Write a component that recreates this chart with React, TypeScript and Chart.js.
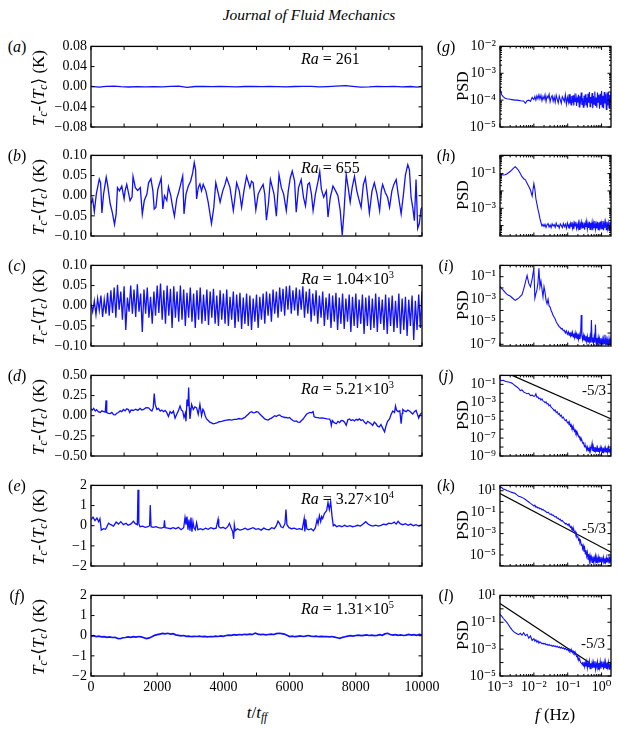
import React, { useEffect, useRef } from 'react';
import { Chart, registerables } from 'chart.js';

Chart.register(...registerables);

const SERIF = "'Liberation Serif', 'Times New Roman', 'DejaVu Serif', serif";
const BLUE = 'rgb(16, 16, 250)';
Chart.defaults.font.family = SERIF;
Chart.defaults.color = '#000';

// ---------------- time-series panels (a)-(f) ----------------
const TIME_TICKS = [0, 2000, 4000, 6000, 8000, 10000];
const TIME_TICK_MARKS = [0, 1000, 2000, 3000, 4000, 5000, 6000, 7000, 8000, 9000, 10000];

const A_YTICKS = [-0.08, -0.04, 0, 0.04, 0.08];
const B_YTICKS = [-0.1, -0.05, 0, 0.05, 0.1];
const C_YTICKS = [-0.1, -0.05, 0, 0.05, 0.1];
const D_YTICKS = [-0.5, -0.25, 0, 0.25, 0.5];
const E_YTICKS = [-2, -1, 0, 1, 2];
const F_YTICKS = [-2, -1, 0, 1, 2];

// [t/t_ff, Tc - <Tc>]
const A_SERIES = [
  [0, 0.0005], [250, -0.0008], [450, 0.0006], [700, 0.0012], [900, 0.0002], [1150, -0.0006],
  [1400, 0.0], [1650, -0.0004], [1900, 0.0003], [2150, -0.0002], [2400, 0.0008], [2650, 0.001],
  [2900, -0.0012], [3150, 0.0004], [3400, 0.0006], [3650, 0.0002], [3900, 0.0005], [4150, 0.0003],
  [4400, -0.0002], [4650, 0.0004], [4900, 0.0007], [5150, 0.0002], [5400, 0.0006], [5650, 0.0003],
  [5900, -0.0005], [6150, 0.0004], [6400, 0.0008], [6650, 0.0005], [6900, -0.0004], [7150, 0.0002],
  [7400, 0.001], [7700, 0.0022], [7900, 0.0008], [8150, -0.001], [8400, -0.0004], [8650, 0.0006],
  [8900, 0.0002], [9150, 0.0008], [9400, -0.0003], [9650, 0.0004], [9850, -0.0008], [10000, 0.0006],
];

const B_SERIES = [
  [0, -0.02], [50, -0.008], [100, -0.04], [160, 0.004], [250, 0.041], [290, 0.032], [330, -0.043],
  [380, 0.004], [460, 0.046], [500, 0.028], [580, -0.02], [640, -0.04], [710, -0.071], [760, -0.045],
  [800, 0.02], [860, 0.012], [930, 0.024], [1000, -0.008], [1030, 0.012], [1080, 0.028], [1130, 0.008],
  [1180, -0.012], [1240, -0.003], [1270, 0.048], [1340, 0.02], [1410, 0.013], [1490, 0.02], [1550, -0.046],
  [1610, -0.012], [1690, 0.004], [1740, 0.032], [1810, 0.042], [1870, 0.012], [1910, -0.033], [1960, -0.029],
  [2020, 0.016], [2120, 0.044], [2170, -0.033], [2220, 0.0], [2290, -0.012], [2340, 0.022], [2410, 0.0],
  [2460, -0.025], [2520, -0.051], [2590, -0.008], [2660, 0.012], [2770, 0.049], [2810, -0.045], [2870, 0.004],
  [2940, 0.024], [3010, 0.036], [3070, 0.056], [3120, 0.082], [3160, 0.064], [3190, -0.008], [3240, 0.02],
  [3290, 0.029], [3340, 0.012], [3390, 0.028], [3470, 0.012], [3540, -0.016], [3640, -0.069], [3710, -0.029],
  [3770, 0.032], [3850, 0.004], [3900, -0.016], [3980, 0.012], [4050, 0.028], [4100, 0.044], [4200, 0.02],
  [4300, -0.037], [4350, -0.004], [4400, 0.032], [4480, 0.012], [4550, -0.029], [4620, 0.012], [4700, 0.048],
  [4800, 0.02], [4850, 0.036], [4900, 0.032], [4980, -0.035], [5050, 0.004], [5120, 0.016], [5200, 0.028],
  [5250, 0.004], [5300, -0.061], [5360, -0.02], [5420, 0.04], [5480, 0.02], [5530, 0.004], [5600, -0.051],
  [5680, 0.052], [5750, 0.02], [5820, 0.004], [5900, -0.037], [5960, 0.012], [6020, 0.044], [6080, 0.061],
  [6150, 0.036], [6200, -0.041], [6270, 0.02], [6350, 0.04], [6420, -0.004], [6480, -0.025], [6550, 0.028],
  [6600, 0.032], [6660, 0.004], [6710, -0.037], [6780, 0.004], [6860, 0.036], [6910, 0.06], [6960, 0.016],
  [7030, -0.004], [7110, 0.012], [7160, -0.053], [7230, -0.004], [7310, 0.024], [7390, 0.012], [7460, 0.0],
  [7530, -0.037], [7590, -0.098], [7640, -0.045], [7710, 0.052], [7770, 0.02], [7830, -0.016], [7890, 0.02],
  [7960, 0.048], [8030, 0.012], [8090, -0.008], [8160, -0.029], [8230, 0.028], [8290, 0.044], [8350, 0.004],
  [8410, -0.043], [8490, 0.012], [8560, 0.032], [8640, 0.004], [8720, -0.037], [8770, 0.012], [8810, 0.028],
  [8890, 0.008], [8960, -0.004], [9020, -0.029], [9090, 0.012], [9150, 0.028], [9220, 0.04], [9280, 0.004],
  [9370, -0.045], [9440, 0.004], [9500, 0.052], [9570, 0.077], [9620, 0.064], [9670, -0.004], [9720, -0.029],
  [9770, -0.062], [9820, 0.04], [9870, -0.081], [9920, -0.069], [9970, -0.033], [10000, -0.029],
];

// sampled every C_STEP time units, starting at t = 0
const C_STEP = 50;
const C_VALUES = [
  0.005, -0.015, 0.012, -0.022, 0.018, -0.012, 0.025, -0.028, 0.015, -0.02,
  0.032, -0.025, 0.038, -0.018, 0.045, -0.03, 0.052, -0.01, 0.035, -0.035,
  0.048, -0.06, 0.02, -0.015, 0.05, -0.02, 0.04, -0.028, 0.053, -0.015,
  0.03, -0.065, 0.04, -0.02, 0.045, -0.03, 0.022, -0.045, 0.035, -0.025,
  0.05, -0.018, 0.055, -0.035, 0.038, -0.045, 0.05, -0.025, 0.042, -0.055,
  0.048, -0.03, 0.035, -0.04, 0.05, -0.035, 0.04, -0.05, 0.032, -0.03,
  0.045, -0.04, 0.03, -0.055, 0.038, -0.035, 0.045, -0.045, 0.028, -0.038,
  0.04, -0.048, 0.035, -0.03, 0.042, -0.045, 0.025, -0.05, 0.038, -0.035,
  0.03, -0.045, 0.04, -0.05, 0.022, -0.035, 0.035, -0.055, 0.028, -0.04,
  0.032, -0.058, 0.02, -0.045, 0.03, -0.05, 0.025, -0.06, 0.018, -0.04,
  0.028, -0.055, 0.022, -0.035, 0.03, -0.045, 0.035, -0.025, 0.03, -0.04,
  0.04, -0.02, 0.035, -0.03, 0.045, -0.015, 0.042, -0.025, 0.048, -0.01,
  0.05, -0.02, 0.038, -0.012, 0.045, -0.025, 0.04, -0.01, 0.048, -0.03,
  0.035, -0.02, 0.042, -0.04, 0.03, -0.025, 0.038, -0.045, 0.025, -0.03,
  0.035, -0.05, 0.02, -0.035, 0.03, -0.055, 0.025, -0.04, 0.032, -0.06,
  0.02, -0.045, 0.03, -0.058, 0.018, -0.04, 0.028, -0.065, 0.022, -0.05,
  0.03, -0.055, 0.015, -0.045, 0.028, -0.07, 0.02, -0.05, 0.025, -0.06,
  0.018, -0.055, 0.03, -0.065, 0.022, -0.045, 0.015, -0.06, 0.028, -0.07,
  0.02, -0.05, 0.025, -0.065, 0.012, -0.055, 0.03, -0.07, 0.018, -0.06,
  0.022, -0.075, 0.015, -0.05, 0.025, -0.085, 0.012, -0.06, 0.028, -0.055,
  0.035,
];

const D_SERIES = [
  [0, 0.086], [40, 0.07], [80, 0.09], [130, 0.058], [170, 0.075], [220, 0.05], [280, 0.04], [330, 0.06],
  [380, 0.05], [430, 0.045], [455, 0.19], [475, 0.04], [530, 0.03], [580, 0.026], [630, 0.04], [680, 0.012],
  [730, 0.01], [780, 0.03], [830, 0.04], [880, 0.06], [930, 0.05], [980, 0.078], [1030, 0.06], [1080, 0.085],
  [1130, 0.078], [1170, 0.04], [1210, 0.07], [1290, 0.066], [1350, 0.08], [1415, 0.066], [1480, 0.09],
  [1540, 0.07], [1590, 0.078], [1660, 0.1], [1740, 0.098], [1800, 0.07], [1840, 0.058], [1880, 0.1],
  [1910, 0.275], [1940, 0.14], [1990, 0.078], [2040, 0.09], [2090, 0.058], [2140, 0.07], [2190, 0.05],
  [2240, 0.065], [2290, 0.038], [2340, -0.01], [2390, 0.05], [2440, 0.03], [2490, 0.058], [2540, -0.03],
  [2590, 0.018], [2640, 0.06], [2690, 0.12], [2730, 0.07], [2770, 0.058], [2810, -0.022], [2850, 0.03],
  [2870, -0.07], [2900, 0.2], [2930, 0.12], [2950, 0.35], [2970, 0.1], [2990, -0.04], [3040, 0.14],
  [3090, 0.078], [3140, 0.11], [3190, 0.098], [3240, 0.018], [3290, 0.14], [3340, 0.0], [3380, 0.08],
  [3410, 0.058], [3450, 0.0], [3490, -0.04], [3540, -0.06], [3590, -0.08], [3640, -0.09], [3690, -0.1],
  [3750, -0.095], [3800, -0.09], [3870, -0.075], [3950, -0.07], [4020, -0.06], [4100, -0.054], [4180, -0.05],
  [4250, -0.055], [4330, -0.045], [4400, -0.046], [4470, -0.035], [4550, -0.042], [4600, -0.03], [4650, -0.022],
  [4700, 0.0], [4750, 0.018], [4800, 0.04], [4850, 0.05], [4900, 0.035], [4950, 0.038], [5000, 0.05],
  [5050, 0.045], [5100, 0.02], [5150, 0.0], [5200, -0.02], [5250, -0.04], [5300, -0.05], [5350, -0.054],
  [5400, -0.04], [5450, -0.03], [5500, -0.015], [5550, 0.0], [5600, -0.01], [5650, 0.005], [5700, 0.01],
  [5750, -0.01], [5800, -0.015], [5850, -0.022], [5900, -0.02], [5950, -0.03], [6000, -0.022], [6050, -0.045],
  [6100, -0.06], [6150, -0.07], [6200, -0.065], [6250, -0.08], [6310, -0.082], [6360, -0.06], [6410, -0.042],
  [6460, -0.01], [6510, 0.018], [6560, 0.03], [6610, 0.04], [6660, 0.035], [6710, 0.05], [6740, -0.01],
  [6780, -0.022], [6850, -0.025], [6910, -0.03], [6980, -0.028], [7060, -0.034], [7130, -0.04], [7210, -0.042],
  [7240, -0.07], [7260, -0.12], [7290, -0.06], [7310, -0.07], [7360, -0.09], [7410, -0.1], [7460, -0.07],
  [7510, -0.085], [7560, -0.06], [7610, -0.062], [7660, -0.08], [7710, -0.12], [7760, -0.05], [7810, -0.04],
  [7860, -0.06], [7910, -0.05], [7960, -0.065], [8010, -0.045], [8060, -0.055], [8110, -0.04], [8160, -0.06],
  [8210, -0.05], [8260, -0.08], [8310, -0.1], [8360, -0.07], [8410, -0.085], [8460, -0.1], [8510, -0.12],
  [8560, -0.08], [8610, -0.1], [8660, -0.13], [8710, -0.14], [8760, -0.11], [8820, -0.16], [8870, -0.2],
  [8910, -0.13], [8960, -0.07], [9020, -0.04], [9070, 0.02], [9120, 0.058], [9170, 0.04], [9200, 0.12],
  [9230, 0.07], [9280, 0.05], [9330, 0.06], [9370, -0.1], [9400, 0.03], [9420, 0.078], [9470, 0.06],
  [9520, 0.05], [9570, 0.07], [9620, 0.058], [9670, 0.04], [9720, 0.02], [9770, 0.05], [9820, 0.066],
  [9860, 0.02], [9900, -0.03], [9950, 0.02], [10000, 0.038],
];

const E_SERIES = [
  [0, 0.3], [60, 0.42], [120, 0.25], [180, 0.38], [230, 0.2], [270, 0.35], [310, -0.22], [380, -0.15],
  [440, -0.18], [480, -0.05], [530, 0.12], [600, 0.05], [680, -0.02], [760, 0.18], [830, 0.08], [900, 0.2],
  [980, 0.05], [1060, 0.12], [1120, 0.02], [1200, 0.08], [1280, 0.22], [1340, 0.1], [1400, 0.05],
  [1420, 1.78], [1445, 0.1], [1480, -0.05], [1560, -0.02], [1640, -0.08], [1720, -0.05], [1770, 0.0],
  [1790, 1.02], [1815, -0.05], [1880, -0.08], [1960, -0.05], [2040, -0.1], [2120, -0.12], [2200, -0.08],
  [2220, 0.27], [2240, -0.1], [2320, -0.12], [2400, -0.15], [2480, -0.1], [2560, -0.15], [2640, -0.08],
  [2720, -0.2], [2800, -0.1], [2840, 0.4], [2870, 0.05], [2900, 0.45], [2930, -0.2], [2960, 0.3],
  [2990, -0.25], [3020, 0.4], [3050, -0.3], [3080, 0.2], [3110, -0.1], [3150, -0.2], [3190, 0.15],
  [3230, -0.2], [3300, -0.15], [3380, -0.2], [3460, -0.12], [3540, -0.18], [3620, -0.1], [3700, -0.15],
  [3780, -0.12], [3840, 0.32], [3860, -0.05], [3920, -0.12], [3990, -0.08], [4060, -0.15], [4130, -0.05],
  [4180, 0.12], [4230, -0.1], [4280, -0.3], [4310, -0.65], [4330, 0.05], [4360, -0.25], [4420, -0.15],
  [4500, -0.22], [4580, -0.18], [4660, -0.12], [4740, -0.2], [4820, -0.15], [4900, -0.1], [4980, -0.18],
  [5060, -0.15], [5140, -0.22], [5220, -0.12], [5300, -0.18], [5380, -0.2], [5460, -0.1], [5540, -0.15],
  [5600, 0.0], [5650, 0.22], [5700, 0.1], [5740, -0.05], [5800, -0.1], [5860, 0.1], [5890, 0.8],
  [5920, 0.05], [5980, -0.1], [6060, -0.15], [6140, -0.12], [6220, -0.18], [6300, -0.15], [6380, -0.2],
  [6440, 0.35], [6460, -0.28], [6490, 0.3], [6520, -0.15], [6580, -0.2], [6650, -0.15], [6720, -0.25],
  [6780, -0.1], [6830, 0.3], [6860, 0.1], [6900, 0.5], [6940, 0.2], [6970, 0.45], [7000, 0.35],
  [7050, 0.6], [7120, 0.75], [7160, 1.15], [7200, 0.8], [7240, 1.2], [7280, 0.5], [7320, 0.0],
  [7360, 0.05], [7420, -0.05], [7500, 0.0], [7580, -0.05], [7660, 0.02], [7740, -0.04], [7820, 0.0],
  [7900, -0.05], [7980, -0.02], [8060, 0.02], [8140, -0.02], [8220, 0.08], [8300, 0.2], [8360, 0.1],
  [8440, 0.02], [8520, -0.02], [8600, 0.03], [8680, -0.02], [8760, 0.02], [8840, 0.08], [8920, 0.05],
  [9000, 0.12], [9080, 0.1], [9160, 0.18], [9220, 0.08], [9280, 0.22], [9340, 0.1], [9420, 0.05],
  [9500, 0.1], [9580, 0.02], [9660, 0.08], [9740, 0.0], [9820, 0.05], [9900, -0.02], [10000, 0.05],
];

const F_SERIES = [
  [0, -0.02], [80, 0.0], [160, -0.04], [240, -0.02], [320, -0.06], [400, -0.05], [480, -0.08], [560, -0.06],
  [640, -0.09], [720, -0.08], [800, -0.13], [880, -0.15], [960, -0.1], [1040, -0.09], [1120, -0.06],
  [1200, -0.08], [1280, -0.05], [1360, -0.07], [1440, -0.04], [1520, -0.06], [1600, -0.1], [1680, -0.14],
  [1760, -0.11], [1840, -0.05], [1920, 0.02], [2000, 0.05], [2080, 0.08], [2160, 0.11], [2240, 0.09],
  [2320, 0.12], [2400, 0.08], [2480, 0.1], [2560, 0.04], [2640, 0.02], [2720, -0.01], [2800, 0.01],
  [2880, -0.03], [2960, -0.02], [3040, -0.05], [3120, -0.03], [3200, -0.04], [3280, -0.02], [3360, -0.05],
  [3440, -0.03], [3520, -0.06], [3600, -0.04], [3680, -0.05], [3760, -0.02], [3840, -0.04], [3920, -0.01],
  [4000, -0.03], [4080, 0.01], [4160, 0.03], [4240, 0.02], [4320, 0.05], [4400, 0.03], [4480, 0.06],
  [4560, 0.04], [4640, 0.07], [4720, 0.05], [4800, 0.08], [4880, 0.06], [4960, 0.13], [5040, 0.08],
  [5120, 0.05], [5200, 0.07], [5280, 0.04], [5360, 0.06], [5440, 0.08], [5520, 0.06], [5600, 0.1],
  [5680, 0.12], [5760, 0.1], [5840, 0.08], [5920, 0.02], [6000, -0.04], [6080, -0.02], [6160, -0.05],
  [6240, -0.03], [6320, -0.01], [6400, -0.04], [6480, -0.02], [6560, 0.01], [6640, -0.02], [6720, -0.04],
  [6800, -0.02], [6880, -0.05], [6960, -0.03], [7040, -0.05], [7120, -0.04], [7200, -0.06], [7280, -0.04],
  [7360, -0.07], [7440, -0.1], [7520, -0.13], [7600, -0.08], [7680, -0.05], [7760, -0.02], [7840, 0.0],
  [7920, -0.02], [8000, 0.01], [8080, 0.03], [8160, 0.0], [8240, 0.02], [8320, 0.04], [8400, 0.01],
  [8480, 0.03], [8560, 0.0], [8640, 0.02], [8720, 0.05], [8800, 0.02], [8880, 0.09], [8960, 0.12],
  [9040, 0.06], [9120, 0.03], [9200, 0.05], [9280, 0.02], [9360, 0.04], [9440, 0.01], [9520, 0.03],
  [9600, 0.06], [9680, 0.03], [9760, 0.05], [9840, 0.02], [9920, 0.06], [10000, 0.03],
];

// ---------------- spectra (g)-(l) ----------------
// log10 of frequency (Hz) shared by every spectrum
const LOG_F = [
  -3.0, -2.95, -2.9, -2.85, -2.8, -2.75, -2.7, -2.65, -2.6, -2.55,
  -2.5, -2.45, -2.4, -2.35, -2.3, -2.25, -2.2, -2.15, -2.1, -2.05,
  -2.0, -1.97, -1.94, -1.91, -1.88, -1.85, -1.82, -1.79, -1.76, -1.73,
  -1.7, -1.67, -1.64, -1.61, -1.58, -1.55, -1.52, -1.49, -1.46, -1.43,
  -1.4, -1.37, -1.34, -1.31, -1.28, -1.25, -1.22, -1.19, -1.16, -1.13,
  -1.1, -1.07, -1.04, -1.01, -0.98, -0.96, -0.94, -0.92, -0.9, -0.88,
  -0.86, -0.84, -0.82, -0.8, -0.78, -0.76, -0.74, -0.72, -0.7, -0.68,
  -0.66, -0.64, -0.62, -0.6, -0.58, -0.56, -0.54, -0.52, -0.5, -0.48,
  -0.46, -0.44, -0.42, -0.4, -0.38, -0.36, -0.34, -0.32, -0.3, -0.28,
  -0.26, -0.24, -0.22, -0.2, -0.18, -0.16, -0.14, -0.12, -0.1, -0.08,
  -0.06, -0.04, -0.02, 0.0, 0.02, 0.04, 0.06, 0.08, 0.1, 0.12,
  0.14, 0.16, 0.18, 0.2, 0.22, 0.24, 0.26, 0.28, 0.3, 0.32,
];

// log10 of PSD at each LOG_F entry
const G_PSD = [
  -3.56, -3.8, -3.88, -3.93, -3.95, -3.96, -3.97, -3.98, -3.99, -4.0,
  -4.0, -4.01, -4.02, -4.03, -4.03, -4.12, -4.02, -4.0, -4.05, -3.9,
  -3.98, -3.86, -4.0, -3.84, -3.95, -3.8, -3.96, -3.82, -4.02, -3.86,
  -3.97, -3.8, -4.05, -3.85, -3.92, -3.78, -4.06, -3.9, -3.83, -4.04,
  -3.88, -4.08, -3.82, -3.96, -4.1, -3.85, -3.98, -4.12, -3.87, -3.95,
  -4.05, -3.8, -4.15, -3.9, -4.08, -3.78, -4.12, -3.92, -4.18, -3.85,
  -4.1, -3.82, -4.2, -3.88, -4.05, -3.75, -4.22, -3.95, -4.08, -3.8,
  -4.25, -3.86, -4.02, -3.72, -4.18, -3.92, -4.26, -3.84, -4.05, -3.78,
  -4.2, -3.9, -4.28, -3.76, -4.1, -3.7, -4.24, -3.88, -4.12, -3.74,
  -4.3, -3.85, -4.15, -3.68, -4.22, -3.9, -4.28, -3.72, -4.08, -3.8,
  -4.32, -3.76, -4.18, -3.66, -4.25, -3.84, -4.3, -3.7, -4.12, -3.78,
  -4.35, -3.72, -4.2, -3.68, -4.28, -3.8, -4.1, -3.7, -4.3, -3.75,
];

const H_PSD = [
  -1.04, -1.06, -1.08, -1.07, -1.02, -0.95, -0.88, -0.78, -0.68, -0.6,
  -0.7, -0.82, -1.0, -1.18, -1.3, -1.36, -1.55, -1.75, -1.95, -2.3,
  -1.58, -1.9, -2.45, -2.75, -3.05, -3.3, -3.6, -3.82, -4.02, -3.93,
  -4.05, -3.92, -4.1, -3.95, -3.88, -4.08, -3.96, -4.12, -3.9, -4.02,
  -3.94, -4.1, -3.86, -4.04, -3.98, -4.14, -3.9, -4.0, -4.12, -3.88,
  -4.06, -3.92, -4.15, -3.85, -4.08, -3.96, -4.18, -3.88, -4.04, -3.8,
  -4.14, -3.9, -4.2, -3.86, -4.02, -3.78, -4.16, -3.94, -4.1, -3.84,
  -4.22, -3.88, -4.06, -3.8, -4.18, -3.92, -4.12, -3.82, -4.24, -3.86,
  -4.08, -3.76, -4.2, -3.9, -4.14, -3.78, -4.22, -3.84, -4.1, -3.8,
  -4.26, -3.86, -4.12, -3.74, -4.2, -3.9, -4.16, -3.78, -4.24, -3.82,
  -4.1, -3.76, -4.22, -3.88, -4.18, -3.74, -4.26, -3.84, -4.12, -3.8,
  -4.24, -3.78, -4.16, -3.86, -4.28, -3.8, -4.14, -3.76, -4.22, -3.84,
];

const I_PSD = [
  -1.86, -2.05, -2.22, -2.4, -2.55, -2.65, -2.72, -2.85, -2.98, -3.1,
  -3.0, -2.9, -2.75, -2.6, -2.1, -1.5, -0.9, -1.6, -1.9, -1.2,
  -0.25, -2.9, -2.5, -2.2, -1.6, -0.25, -1.9, -1.4, -2.1, -2.8,
  -1.9, -2.4, -3.1, -3.4, -3.0, -3.6, -3.7, -4.0, -4.2, -4.45,
  -4.6, -4.75, -5.0, -5.15, -5.3, -5.45, -5.5, -5.65, -5.6, -5.8,
  -5.75, -6.0, -5.8, -6.1, -5.9, -6.2, -5.95, -6.25, -6.0, -6.3,
  -5.95, -6.35, -6.05, -6.4, -6.0, -6.45, -6.1, -6.5, -6.05, -6.55,
  -6.15, -6.55, -6.2, -4.4, -6.25, -6.6, -6.2, -6.65, -6.3, -6.7,
  -6.25, -6.75, -6.3, -6.8, -6.35, -6.75, -6.3, -6.85, -4.85, -6.8,
  -6.4, -6.9, -6.35, -6.85, -5.25, -6.95, -6.45, -6.9, -6.4, -7.0,
  -6.5, -6.95, -6.45, -7.0, -6.55, -7.05, -6.5, -6.95, -6.15, -7.05,
  -6.55, -7.05, -6.6, -7.08, -6.5, -7.05, -6.6, -7.08, -6.55, -7.05,
];

const J_PSD = [
  -0.5, -0.58, -0.55, -0.66, -0.7, -0.74, -0.8, -0.86, -1.0, -1.15,
  -1.3, -1.45, -1.7, -1.62, -1.85, -1.95, -2.05, -2.0, -2.25, -2.2,
  -2.35, -2.3, -2.05, -2.45, -2.4, -2.6, -2.55, -2.75, -2.62, -2.85,
  -2.9, -3.05, -2.95, -3.2, -3.15, -3.4, -3.3, -3.55, -3.65, -3.75,
  -3.95, -3.85, -4.15, -4.05, -4.35, -4.25, -4.55, -4.45, -4.75, -4.65,
  -4.9, -5.05, -4.95, -5.3, -5.2, -5.5, -5.35, -5.65, -5.5, -5.85,
  -5.75, -6.05, -5.9, -6.25, -6.1, -6.45, -6.3, -6.65, -6.55, -6.85,
  -6.8, -7.05, -7.0, -7.3, -7.25, -7.55, -7.5, -7.75, -7.8, -8.0,
  -7.95, -8.3, -8.0, -8.4, -8.05, -8.45, -8.0, -8.4, -8.1, -7.6,
  -8.45, -8.05, -8.5, -8.0, -8.45, -8.1, -8.55, -8.05, -8.5, -8.1,
  -8.55, -8.05, -8.5, -8.1, -8.6, -8.05, -8.5, -8.15, -8.6, -8.08,
  -8.55, -8.1, -8.6, -8.05, -8.55, -8.15, -8.62, -8.1, -8.55, -8.12,
];

const K_PSD = [
  1.38, 1.3, 1.15, 1.12, 1.02, 0.98, 0.9, 0.85, 0.8, 0.74,
  0.62, 0.48, 0.44, 0.38, 0.29, 0.18, 0.06, -0.05, -0.18, -0.3,
  -0.42, -0.35, -0.55, -0.5, -0.62, -0.58, -0.7, -0.66, -0.78, -0.74,
  -0.85, -0.9, -0.96, -1.05, -1.0, -1.12, -1.2, -1.16, -1.3, -1.26,
  -1.38, -1.45, -1.42, -1.58, -1.55, -1.7, -1.65, -1.82, -1.78, -1.92,
  -1.98, -2.1, -2.05, -2.2, -2.12, -2.3, -2.25, -2.42, -2.35, -2.55,
  -2.5, -2.7, -2.62, -2.9, -2.8, -3.1, -3.0, -3.35, -3.25, -3.6,
  -3.5, -3.85, -3.7, -4.1, -3.95, -4.4, -4.15, -4.7, -4.35, -4.9,
  -4.55, -5.1, -4.75, -5.4, -4.9, -5.6, -5.05, -5.5, -5.2, -5.7,
  -5.15, -5.65, -5.25, -5.55, -5.1, -5.7, -5.3, -5.6, -5.2, -5.75,
  -5.3, -5.62, -5.18, -5.7, -5.35, -5.58, -5.22, -5.75, -5.32, -5.65,
  -5.25, -5.72, -5.38, -5.6, -5.2, -5.78, -5.3, -5.66, -5.28, -5.7,
];

const L_PSD = [
  -0.42, -0.55, -0.72, -0.86, -1.0, -1.18, -1.38, -1.55, -1.7, -1.78,
  -1.85, -1.92, -1.82, -1.95, -1.78, -2.0, -1.9, -2.18, -2.02, -2.35,
  -2.22, -2.4, -2.3, -2.48, -2.38, -2.55, -2.45, -2.52, -2.6, -2.56,
  -2.62, -2.58, -2.68, -2.64, -2.72, -2.66, -2.74, -2.7, -2.78, -2.73,
  -2.8, -2.76, -2.84, -2.78, -2.88, -2.82, -2.92, -2.85, -2.95, -2.9,
  -3.0, -2.92, -3.05, -2.98, -3.12, -3.02, -3.15, -3.06, -3.2, -3.1,
  -3.25, -3.15, -3.3, -3.22, -3.4, -3.35, -3.55, -3.5, -3.7, -3.68,
  -3.85, -3.8, -3.98, -4.05, -4.1, -4.02, -4.25, -3.95, -4.3, -4.0,
  -4.28, -3.95, -4.4, -4.02, -4.35, -3.92, -4.45, -4.05, -4.3, -3.98,
  -4.42, -4.0, -4.35, -3.9, -4.48, -4.08, -4.32, -3.96, -4.5, -4.04,
  -4.38, -3.94, -4.46, -4.06, -4.3, -3.92, -4.52, -4.0, -4.4, -3.95,
  -4.44, -4.02, -4.36, -3.98, -4.5, -4.06, -4.34, -3.94, -4.48, -4.0,
];

// -5/3 reference lines: [f (Hz), PSD]
const J_SLOPE = [[0.0023, 1.0], [2.0, 1.3e-5]];
const K_SLOPE = [[0.001, 5.5], [2.0, 1.7e-5]];
const L_SLOPE = [[0.001, 2.5], [0.42, 1.05e-4]];

// log10 axis limits and labelled decades
const PSD_X_RANGE = [0.001, 1.9];
const PSD_X_LABELS = [-3, -2, -1, 0];
const G_RANGE = [-5, -2];
const H_RANGE = [-4.6, 0.05];
const I_RANGE = [-7.15, 0];
const J_RANGE = [-9, 0];
const K_RANGE = [-6.03, 1.5];
const L_RANGE = [-5, 1];
const G_LABELS = [-5, -4, -3, -2];
const H_LABELS = [-3, -1];
const I_LABELS = [-7, -5, -3, -1];
const J_LABELS = [-9, -7, -5, -3, -1];
const K_LABELS = [-5, -3, -1, 1];
const L_LABELS = [-5, -3, -1, 1];

// ---------------- layout ----------------
const ROW_TOPS = [44, 153, 263, 373, 483, 593];
const PLOT_H = 83;
const PAD_TOP = 10;
const AXIS_H = 22;
const TS_LEFT = 91;
const TS_WIDTH = 331;
const TS_YW = 55;
const TS_RIGHT_PAD = 22;
const PSD_LEFT = 500;
const PSD_WIDTH = 111;
const PSD_YW = 44;
const PSD_RIGHT_PAD = 6;
const TICK_FONT = { family: SERIF, size: 14 };

const SUP: Record<string, string> = {
  '-': '\u207B', '0': '\u2070', '1': '\u00B9', '2': '\u00B2', '3': '\u00B3',
  '4': '\u2074', '5': '\u2075', '6': '\u2076', '7': '\u2077', '8': '\u2078', '9': '\u2079',
};
const pow10Label = (e: number) => '10' + String(e).split('').map((c) => SUP[c] || c).join('');
const fmtLinear = (v: number, d: number) => {
  const s = Math.abs(v).toFixed(d);
  return v < -1e-9 ? '\u2212' + s : s;
};

function decadesIn(lo: number, hi: number) {
  const out: number[] = [];
  for (let e = Math.ceil(lo - 1e-9); e <= Math.floor(hi + 1e-9); e++) out.push(Math.pow(10, e));
  return out;
}
function minorsIn(lo: number, hi: number) {
  const out: number[] = [];
  for (let e = Math.floor(lo); e <= Math.ceil(hi); e++) {
    for (let k = 2; k <= 9; k++) {
      const v = k * Math.pow(10, e);
      if (Math.log10(v) >= lo && Math.log10(v) <= hi) out.push(v);
    }
  }
  return out;
}

// box frame with inward ticks on all four sides
function makeFrame(xMajor: number[], xMinor: number[], yMajor: number[], yMinor: number[]) {
  return {
    id: 'frame',
    afterDatasetsDraw(chart: any) {
      const { ctx, chartArea: a } = chart;
      const xs = chart.scales.x;
      const ys = chart.scales.y;
      ctx.save();
      ctx.strokeStyle = '#000';
      ctx.lineWidth = 1;
      ctx.beginPath();
      const xMark = (v: number, len: number) => {
        const p = xs.getPixelForValue(v);
        if (p < a.left - 0.5 || p > a.right + 0.5) return;
        ctx.moveTo(p, a.bottom);
        ctx.lineTo(p, a.bottom - len);
        ctx.moveTo(p, a.top);
        ctx.lineTo(p, a.top + len);
      };
      const yMark = (v: number, len: number) => {
        const p = ys.getPixelForValue(v);
        if (p < a.top - 0.5 || p > a.bottom + 0.5) return;
        ctx.moveTo(a.left, p);
        ctx.lineTo(a.left + len, p);
        ctx.moveTo(a.right, p);
        ctx.lineTo(a.right - len, p);
      };
      xMajor.forEach((v) => xMark(v, 3.5));
      xMinor.forEach((v) => xMark(v, 2));
      yMajor.forEach((v) => yMark(v, 3.5));
      yMinor.forEach((v) => yMark(v, 2));
      ctx.stroke();
      ctx.lineWidth = 1.3;
      ctx.strokeRect(a.left, a.top, a.right - a.left, a.bottom - a.top);
      ctx.restore();
    },
  };
}

const toPoints = (pairs: number[][]) => pairs.map(([x, y]) => ({ x, y }));

type TimeSpec = {
  row: number; points: { x: number; y: number }[]; yTicks: number[]; decimals: number;
  lineWidth: number; showX: boolean;
};
type PsdSpec = {
  row: number; psd: number[]; range: number[]; labels: number[]; slope?: number[][]; showX: boolean;
};

function timeConfig(s: TimeSpec): any {
  const yMin = s.yTicks[0];
  const yMax = s.yTicks[s.yTicks.length - 1];
  return {
    type: 'line',
    data: {
      datasets: [{
        data: s.points, borderColor: BLUE, borderWidth: s.lineWidth, pointRadius: 0,
        tension: 0, fill: false,
      }],
    },
    options: {
      animation: false, responsive: false, events: [],
      layout: { padding: { top: PAD_TOP, right: TS_RIGHT_PAD, left: 0, bottom: 0 } },
      plugins: { legend: { display: false }, tooltip: { enabled: false } },
      scales: {
        x: {
          type: 'linear', min: 0, max: 10000,
          grid: { display: false, drawTicks: false }, border: { display: false },
          ticks: {
            display: s.showX, font: TICK_FONT, color: '#000', padding: 3, maxRotation: 0, autoSkip: false,
            callback: (v: number) => String(v),
          },
          afterBuildTicks: (sc: any) => { sc.ticks = TIME_TICKS.map((value) => ({ value })); },
          afterFit: (sc: any) => { sc.height = AXIS_H; },
        },
        y: {
          type: 'linear', min: yMin, max: yMax,
          grid: { display: false, drawTicks: false }, border: { display: false },
          ticks: {
            font: TICK_FONT, color: '#000', padding: 4, autoSkip: false,
            callback: (v: number) => fmtLinear(v, s.decimals),
          },
          afterBuildTicks: (sc: any) => { sc.ticks = s.yTicks.map((value) => ({ value })); },
          afterFit: (sc: any) => { sc.width = TS_YW; },
        },
      },
    },
    plugins: [makeFrame(TIME_TICK_MARKS, [], s.yTicks, [])],
  };
}

function psdConfig(s: PsdSpec): any {
  const [lo, hi] = s.range;
  const xlo = Math.log10(PSD_X_RANGE[0]);
  const xhi = Math.log10(PSD_X_RANGE[1]);
  const datasets: any[] = [{
    data: LOG_F.map((lf, i) => ({ x: Math.pow(10, lf), y: Math.pow(10, s.psd[i]) })),
    borderColor: BLUE, borderWidth: 1.1, pointRadius: 0, tension: 0, fill: false,
  }];
  if (s.slope) {
    datasets.push({
      data: toPoints(s.slope), borderColor: '#000', borderWidth: 1.2, pointRadius: 0, tension: 0, fill: false,
    });
  }
  const yMinor = hi - lo <= 5 ? minorsIn(lo, hi) : [];
  return {
    type: 'line',
    data: { datasets },
    options: {
      animation: false, responsive: false, events: [],
      layout: { padding: { top: PAD_TOP, right: PSD_RIGHT_PAD, left: 0, bottom: 0 } },
      plugins: { legend: { display: false }, tooltip: { enabled: false } },
      scales: {
        x: {
          type: 'logarithmic', min: PSD_X_RANGE[0], max: PSD_X_RANGE[1],
          grid: { display: false, drawTicks: false }, border: { display: false },
          ticks: {
            display: s.showX, font: TICK_FONT, color: '#000', padding: 3, maxRotation: 0, autoSkip: false,
            callback: (v: number) => pow10Label(Math.round(Math.log10(v))),
          },
          afterBuildTicks: (sc: any) => { sc.ticks = PSD_X_LABELS.map((e) => ({ value: Math.pow(10, e) })); },
          afterFit: (sc: any) => { sc.height = AXIS_H; },
        },
        y: {
          type: 'logarithmic', min: Math.pow(10, lo), max: Math.pow(10, hi),
          grid: { display: false, drawTicks: false }, border: { display: false },
          ticks: {
            font: TICK_FONT, color: '#000', padding: 4, autoSkip: false,
            callback: (v: number) => pow10Label(Math.round(Math.log10(v))),
          },
          afterBuildTicks: (sc: any) => { sc.ticks = s.labels.map((e) => ({ value: Math.pow(10, e) })); },
          afterFit: (sc: any) => { sc.width = PSD_YW; },
        },
      },
    },
    plugins: [makeFrame(decadesIn(xlo, xhi), minorsIn(xlo, xhi), decadesIn(lo, hi), yMinor)],
  };
}

function ChartCanvas({ config, left, top, width, height }: any) {
  const ref = useRef<HTMLCanvasElement>(null);
  useEffect(() => {
    const chart = new Chart(ref.current as HTMLCanvasElement, config);
    return () => chart.destroy();
  }, [config]);
  return (
    <canvas
      ref={ref}
      width={width}
      height={height}
      style={{ position: 'absolute', left, top, width, height }}
    />
  );
}

const TIME_SPECS: TimeSpec[] = [
  { row: 0, points: toPoints(A_SERIES), yTicks: A_YTICKS, decimals: 2, lineWidth: 1.3, showX: false },
  { row: 1, points: toPoints(B_SERIES), yTicks: B_YTICKS, decimals: 2, lineWidth: 1.3, showX: false },
  { row: 2, points: C_VALUES.map((y, i) => ({ x: i * C_STEP, y })), yTicks: C_YTICKS, decimals: 2, lineWidth: 1.3, showX: false },
  { row: 3, points: toPoints(D_SERIES), yTicks: D_YTICKS, decimals: 2, lineWidth: 1.3, showX: false },
  { row: 4, points: toPoints(E_SERIES), yTicks: E_YTICKS, decimals: 0, lineWidth: 1.3, showX: false },
  { row: 5, points: toPoints(F_SERIES), yTicks: F_YTICKS, decimals: 0, lineWidth: 1.7, showX: true },
];

const PSD_SPECS: PsdSpec[] = [
  { row: 0, psd: G_PSD, range: G_RANGE, labels: G_LABELS, showX: false },
  { row: 1, psd: H_PSD, range: H_RANGE, labels: H_LABELS, showX: false },
  { row: 2, psd: I_PSD, range: I_RANGE, labels: I_LABELS, showX: false },
  { row: 3, psd: J_PSD, range: J_RANGE, labels: J_LABELS, slope: J_SLOPE, showX: false },
  { row: 4, psd: K_PSD, range: K_RANGE, labels: K_LABELS, slope: K_SLOPE, showX: false },
  { row: 5, psd: L_PSD, range: L_RANGE, labels: L_LABELS, slope: L_SLOPE, showX: true },
];

const TIME_CONFIGS = TIME_SPECS.map(timeConfig);
const PSD_CONFIGS = PSD_SPECS.map(psdConfig);

const RA_LABELS: React.ReactNode[] = [
  <>= 261</>,
  <>= 655</>,
  <>= 1.04×10<sup style={{ fontSize: '0.65em' }}>3</sup></>,
  <>= 5.21×10<sup style={{ fontSize: '0.65em' }}>3</sup></>,
  <>= 3.27×10<sup style={{ fontSize: '0.65em' }}>4</sup></>,
  <>= 1.31×10<sup style={{ fontSize: '0.65em' }}>5</sup></>,
];
const LEFT_LETTERS = ['a', 'b', 'c', 'd', 'e', 'f'];
const RIGHT_LETTERS = ['g', 'h', 'i', 'j', 'k', 'l'];
const SLOPE_LABEL_POS = [
  { row: 3, x: 594, y: 390 },
  { row: 4, x: 594, y: 528 },
  { row: 5, x: 593, y: 643 },
];

const text: React.CSSProperties = {
  position: 'absolute', fontFamily: SERIF, color: '#000', whiteSpace: 'nowrap', lineHeight: 1,
};
const centered = (x: number, y: number, extra?: React.CSSProperties): React.CSSProperties => ({
  ...text, left: x, top: y, transform: 'translate(-50%, -50%)', ...extra,
});
const rotated = (x: number, y: number, extra?: React.CSSProperties): React.CSSProperties => ({
  ...text, left: x, top: y, transform: 'translate(-50%, -50%) rotate(-90deg)', ...extra,
});
const subStyle: React.CSSProperties = { fontSize: '0.68em', verticalAlign: '-0.3em' };

export default function App() {
  return (
    <div style={{ position: 'absolute', left: 0, top: 0, width: 618, height: 729, background: '#fff', overflow: 'hidden' }}>
      {TIME_CONFIGS.map((cfg, i) => (
        <ChartCanvas
          key={'t' + i}
          config={cfg}
          left={TS_LEFT - TS_YW}
          top={ROW_TOPS[i] - PAD_TOP}
          width={TS_YW + TS_WIDTH + TS_RIGHT_PAD}
          height={PAD_TOP + PLOT_H + AXIS_H}
        />
      ))}
      {PSD_CONFIGS.map((cfg, i) => (
        <ChartCanvas
          key={'p' + i}
          config={cfg}
          left={PSD_LEFT - PSD_YW}
          top={ROW_TOPS[i] - PAD_TOP}
          width={PSD_YW + PSD_WIDTH + PSD_RIGHT_PAD}
          height={PAD_TOP + PLOT_H + AXIS_H}
        />
      ))}

      <div style={centered(309, 15, { fontSize: 15.5, fontStyle: 'italic' })}>Journal of Fluid Mechanics</div>

      {ROW_TOPS.map((top, i) => (
        <React.Fragment key={'lab' + i}>
          <div style={centered(17, top + 3, { fontSize: 16 })}>(<i>{LEFT_LETTERS[i]}</i>)</div>
          <div style={centered(446, top + 3, { fontSize: 16 })}>(<i>{RIGHT_LETTERS[i]}</i>)</div>
          <div style={{ ...text, left: 301, top: top + 7, fontSize: 16 }}>
            <i>Ra</i> {RA_LABELS[i]}
          </div>
          <div style={rotated(40, top + 44, { fontSize: 17 })}>
            <i>T</i><sub style={subStyle}><i>c</i></sub>-⟨<i>T</i><sub style={subStyle}><i>c</i></sub>⟩ (K)
          </div>
          <div style={rotated(463, top + 42, { fontSize: 16 })}>PSD</div>
        </React.Fragment>
      ))}

      {SLOPE_LABEL_POS.map((p) => (
        <div key={'s' + p.row} style={centered(p.x, p.y, { fontSize: 15 })}>-5/3</div>
      ))}

      <div style={centered(257, 714, { fontSize: 17 })}>
        <i>t</i>/<i>t</i><sub style={subStyle}><i>ff</i></sub>
      </div>
      <div style={centered(555, 714, { fontSize: 17 })}>
        <i>f</i> (Hz)
      </div>
    </div>
  );
}
